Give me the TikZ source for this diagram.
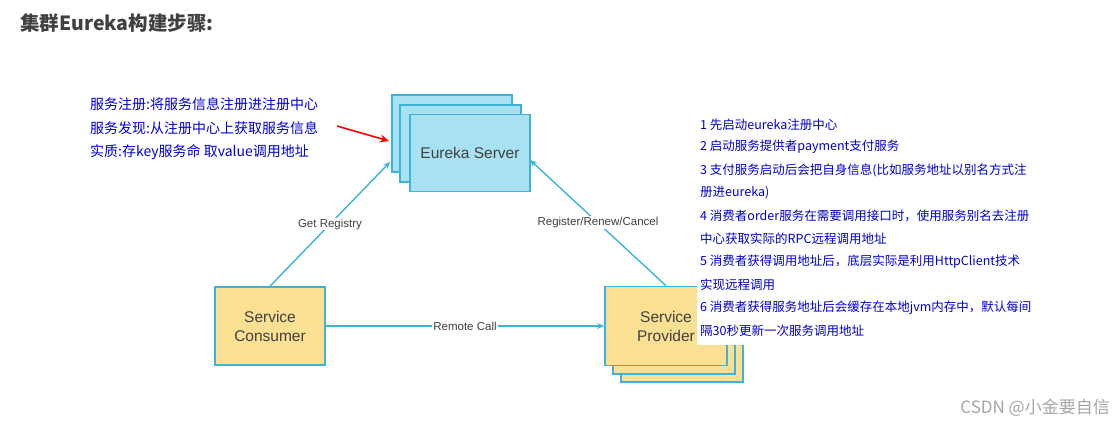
\documentclass[tikz,border=0pt]{standalone}
\usepackage{fontspec}
\usetikzlibrary{arrows.meta}
\setmainfont{Liberation Sans}
\newfontfamily\cjk{Noto Sans CJK SC}
\begin{document}
\begin{tikzpicture}[x=1pt,y=-1pt,
  line/.style={draw=lc,line width=1.6pt},
  eu/.style={line,fill=eb},
  sv/.style={line,fill=yb},
  arr/.style={draw=lc,line width=1.4pt,-{Stealth[length=7pt,width=6pt]}},
  bt/.style={text=blue!85!black,font=\cjk\fontsize{14}{16}\selectfont,anchor=west,inner sep=0},
  lt/.style={text=blue!80!black,font=\cjk\fontsize{12.5}{14}\selectfont,anchor=west,inner sep=0},
  lab/.style={font=\fontsize{11.5}{13}\selectfont,text=black!75,fill=white,inner sep=1pt}]
\definecolor{lc}{HTML}{3BB4D8}
\definecolor{eb}{HTML}{A8E2F2}
\definecolor{yb}{HTML}{FBDF92}
\useasboundingbox (0,0) rectangle (1115,426);
\fill[white] (0,0) rectangle (1115,426);
\node[anchor=west,inner sep=0,font=\cjk\bfseries\fontsize{19.5}{22}\selectfont,text=black!75] (title) at (20,23) {集群Eureka构建步骤:};
% left notes
\node[bt] (n1) at (90,104) {服务注册:将服务信息注册进注册中心};
\node[bt] (n2) at (90,128) {服务发现:从注册中心上获取服务信息};
\node[bt] (n3) at (90,152) {实质:存key服务命 取value调用地址};
% Eureka stack
\draw[eu] (392,95) rectangle (512,172);
\draw[eu] (400,105) rectangle (521,182);
\node[eu,minimum width=120pt,minimum height=77pt,font=\fontsize{15.5}{17}\selectfont,text=black!75] (eur) at (470,153) {Eureka Server};
\coordinate (ein) at (389,141);
\draw[red,line width=1.6pt,-{Stealth[length=9pt,width=8pt]}] (337,126) -- (ein);
% Consumer
\node[sv,minimum width=110pt,minimum height=78pt,align=center,font=\fontsize{15.5}{19}\selectfont,text=black!75] (con) at (270,326) {Service\\Consumer};
% Provider stack
\draw[sv] (621,303) rectangle (743,382);
\draw[sv] (613,295) rectangle (735,374);
\node[sv,minimum width=122pt,minimum height=79pt,align=center,font=\fontsize{15.5}{19}\selectfont,text=black!75] (pro) at (666,326) {Service\\Provider};
% connectors
\coordinate (eL) at (390,162);
\coordinate (eR) at (530,160);
\draw[arr] (con.north) -- (eL) node[lab,pos=0.5] {Get Registry};
\draw[arr] (pro.north) -- (eR) node[lab,pos=0.5] {Register/Renew/Cancel};
\draw[arr] (con.east) -- (pro.west) node[lab,midway] {Remote Call};
% right notes
\fill[white] (697,112) rectangle (1032,345);
\node[lt] (r1) at (700,125) {1 先启动eureka注册中心};
\node[lt] (r2) at (700,147) {2 启动服务提供者payment支付服务};
\node[lt] (r3) at (700,170) {3 支付服务启动后会把自身信息(比如服务地址以别名方式注};
\node[lt] (r4) at (700,193) {册进eureka)};
\node[lt] (r5) at (700,216) {4 消费者order服务在需要调用接口时，使用服务别名去注册};
\node[lt] (r6) at (700,239) {中心获取实际的RPC远程调用地址};
\node[lt] (r7) at (700,262) {5 消费者获得调用地址后，底层实际是利用HttpClient技术};
\node[lt] (r8) at (700,285) {实现远程调用};
\node[lt] (r9) at (700,308) {6 消费者获得服务地址后会缓存在本地jvm内存中，默认每间};
\node[lt] (r10) at (700,331) {隔30秒更新一次服务调用地址};
\node[anchor=east,inner sep=0,font=\cjk\fontsize{17}{19}\selectfont,text=black!35] (wm) at (1110,408) {CSDN @小金要自信};
\end{tikzpicture}
\end{document}
